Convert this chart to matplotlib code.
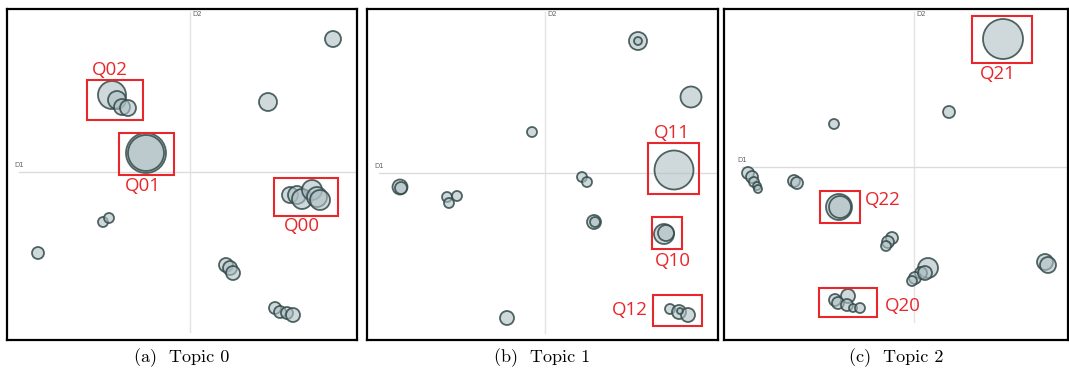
import matplotlib
matplotlib.use("Agg")
import matplotlib.pyplot as plt
from matplotlib.patches import Rectangle

# ---------------- data (D1, D2 projection, bubble radius) ----------------
t0_d1 = [143, -78, -73, -68, -62, 78, -44, -44, 100, 107, 112, 122, 127, 130,
         -87, -81, -152, 36, 40, 43, 85, 90, 97, 103]
t0_d2 = [133, 77, 72, 65, 64, 70, 19, 19, -23, -23, -27, -18, -25, -28,
         -50, -46, -81, -93, -96, -101, -136, -140, -141, -143]
t0_r = [8, 14, 9, 8, 8, 9, 20, 18, 8, 9, 10, 10, 10, 10,
        5, 5, 6, 7, 7, 7, 6, 6, 6, 7]

t1_d1 = [93, 93, 146, -13, 129, -145, -144, -98, -88, -96, 37, 42, 49, 50,
         119, 121, 125, 134, 143, 135, -38]
t1_d2 = [132, 132, 76, 41, 3, -14, -15, -24, -23, -30, -4, -9, -49, -49,
         -61, -60, -136, -139, -142, -138, -145]
t1_r = [9, 4, 10.5, 5, 19.5, 7.5, 6, 5, 5, 5, 5, 5, 7, 5,
        10, 8, 5, 7, 7, 3, 7]

t2_d1 = [89, 35, -80, -166, -162, -160, -157, -156, -120, -117, -75, -74,
         -22, -26, -28, 14, 7, 1, -2, 11, 131, 134,
         -79, -66, -76, -67, -61, -54]
t2_d2 = [128, 55, 43, -6, -10, -15, -19, -22, -14, -16, -40, -40,
         -71, -75, -79, -101, -106, -111, -114, -106, -95, -98,
         -133, -129, -136, -138, -141, -141]
t2_r = [20, 6, 5, 6, 6, 5, 4, 4, 6, 6, 13, 11,
        6, 6, 5, 10, 6, 6, 5, 7, 8, 8,
        6, 7, 6, 6, 4, 5]

# highlighted query regions: label, box (x0, x1, y0, y1), label position
t0_labels = ["Q02", "Q01", "Q00"]
t0_boxes = [(-103, -47, 52, 92), (-71, -16, -3, 39), (84, 148, -44, -6)]
t0_lpos = [(-80, 102), (-47, -14), (112, -54)]

t1_labels = ["Q11", "Q10", "Q12"]
t1_boxes = [(103, 154, -21, 30), (107, 137, -76, -44), (108, 157, -153, -122)]
t1_lpos = [(127, 40), (128, -88), (85, -137)]

t2_labels = ["Q21", "Q22", "Q20"]
t2_boxes = [(58, 118, 104, 151), (-94, -54, -56, -24), (-95, -37, -150, -121)]
t2_lpos = [(84, 93), (-31, -33), (-11, -139)]

captions = ["(a)  Topic 0", "(b)  Topic 1", "(c)  Topic 2"]

# ---------------- layout ----------------
W, H = 1069, 374
fig = plt.figure(figsize=(W / 100, H / 100), dpi=100)

panels = [
    dict(box=(7, 9, 357, 340), origin=(190, 172), vline=(160, -160), hline=-171,
         d1=t0_d1, d2=t0_d2, r=t0_r, labels=t0_labels, boxes=t0_boxes, lpos=t0_lpos),
    dict(box=(367, 9, 718, 340), origin=(545, 173), vline=(161, -160), hline=-166,
         d1=t1_d1, d2=t1_d2, r=t1_r, labels=t1_labels, boxes=t1_boxes, lpos=t1_lpos),
    dict(box=(724, 9, 1068, 340), origin=(914, 167), vline=(155, -155), hline=-172,
         d1=t2_d1, d2=t2_d2, r=t2_r, labels=t2_labels, boxes=t2_boxes, lpos=t2_lpos),
]

face = (0.69, 0.75, 0.77, 0.6)
edge = (0.20, 0.29, 0.29, 0.85)

for p, cap in zip(panels, captions):
    l, t, rr, b = p["box"]
    ox, oy = p["origin"]
    ax = fig.add_axes([l / W, (H - b) / H, (rr - l) / W, (b - t) / H])
    ax.set_xlim(l - ox, rr - ox)
    ax.set_ylim(oy - b, oy - t)
    ax.set_xticks([])
    ax.set_yticks([])
    for s in ax.spines.values():
        s.set_linewidth(1.6)
        s.set_color("black")

    # crosshair
    ax.plot([0, 0], list(p["vline"]), color="#e3e3e3", lw=1.0, zorder=1)
    ax.plot([p["hline"], rr - ox], [0, 0], color="#dcdcdc", lw=1.0, zorder=1)
    ax.text(p["hline"] - 5, 4, "D1", fontsize=5, color="#666666", ha="left", va="bottom")
    ax.text(2, oy - t - 2, "D2", fontsize=5, color="#666666", ha="left", va="top")

    # bubbles
    sizes = [(2 * r * 0.72) ** 2 for r in p["r"]]
    ax.scatter(p["d1"], p["d2"], s=sizes, facecolor=face, edgecolor=edge,
               linewidth=1.3, zorder=3)

    # highlight boxes
    for lab, (x0, x1, y0, y1), (lx, ly) in zip(p["labels"], p["boxes"], p["lpos"]):
        ax.add_patch(Rectangle((x0, y0), x1 - x0, y1 - y0, fill=False,
                               edgecolor="#e8262b", lw=1.5, zorder=5))
        ax.text(lx, ly, lab, color="#e8262b", fontsize=13.5, family="Open Sans",
                ha="center", va="center", zorder=6)

    fig.text((l + rr) / 2 / W, 1 - 358 / H, cap, ha="center", va="center",
             fontsize=13, family="cmr10")

fig.savefig("out.png", dpi=100)
